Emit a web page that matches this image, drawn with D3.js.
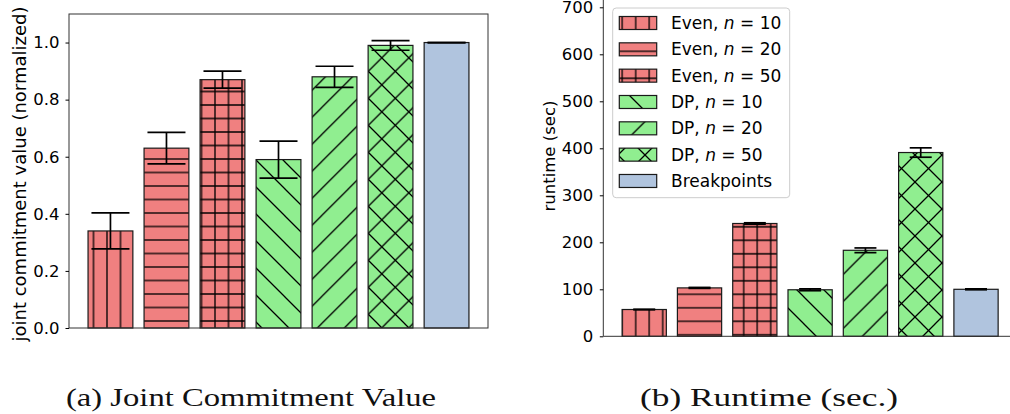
<!DOCTYPE html>
<html>
<head>
<meta charset="utf-8">
<script src="https://cdn.jsdelivr.net/npm/d3@7"></script>
<style>
  body { margin: 0; background: #fff; }
  svg { display: block; }
</style>
</head>
<body>
<svg id="fig" width="1010" height="414"></svg>
<script>
// ---- data ----
const groups     = ["Even", "Even", "Even", "DP", "DP", "DP", "Breakpoints"];
const sizes      = ["10", "20", "50", "10", "20", "50", null];
const hatches    = ["|", "-", "+", "\\", "/", "x", ""];
const jointValue = [0.34, 0.63, 0.87, 0.59, 0.88, 0.99, 1.0];
const jointErr   = [0.063, 0.055, 0.030, 0.065, 0.037, 0.017, 0.0];
const runtimeSec = [57, 103, 240, 99, 183, 391, 100];
const runtimeErr = [0.5, 1, 1.5, 2, 5, 10, 1];
const jointTicks   = [0.0, 0.2, 0.4, 0.6, 0.8, 1.0];
const runtimeTicks = [0, 100, 200, 300, 400, 500, 600, 700];
const captions = ["(a) Joint Commitment Value", "(b) Runtime (sec.)"];

const groupColor = { Even: "#f08080", DP: "#90ee90", Breakpoints: "#b0c4de" };
const idx = d3.range(groups.length);

const svg = d3.select("#fig");
const defs = svg.append("defs");
const FONT = "'DejaVu Sans', sans-serif";

// hatch tiles (spacing of straight and diagonal line families)
const S = 13.5, D = 27, HW = 1.3;
function hatchPatterns(prefix, ph) {
  // vertical lines
  let p = defs.append("pattern").attr("id", prefix + "-v")
    .attr("patternUnits", "userSpaceOnUse").attr("width", S).attr("height", S)
    .attr("x", ph.vx - S / 2).attr("y", 0);
  p.append("path").attr("d", `M${S/2},-1V${S+1}`).attr("stroke", "#000").attr("stroke-width", HW);
  // horizontal lines
  p = defs.append("pattern").attr("id", prefix + "-h")
    .attr("patternUnits", "userSpaceOnUse").attr("width", S).attr("height", S)
    .attr("x", 0).attr("y", ph.hy - S / 2);
  p.append("path").attr("d", `M-1,${S/2}H${S+1}`).attr("stroke", "#000").attr("stroke-width", HW);
  // grid
  p = defs.append("pattern").attr("id", prefix + "-p")
    .attr("patternUnits", "userSpaceOnUse").attr("width", S).attr("height", S)
    .attr("x", ph.vx - S / 2).attr("y", ph.hy - S / 2);
  p.append("path").attr("d", `M${S/2},-1V${S+1}M-1,${S/2}H${S+1}`).attr("stroke", "#000").attr("stroke-width", HW);
  // diagonal families: x - y = c (back) and x + y = c (forward)
  const back = `M-1,-1L${D+1},${D+1}M-2,${D-2}L2,${D+2}M${D-2},-2L${D+2},2`;
  const fwd  = `M-1,${D+1}L${D+1},-1M-2,2L2,-2M${D-2},${D+2}L${D+2},${D-2}`;
  p = defs.append("pattern").attr("id", prefix + "-b")
    .attr("patternUnits", "userSpaceOnUse").attr("width", D).attr("height", D)
    .attr("x", ph.back).attr("y", 0);
  p.append("path").attr("d", back).attr("stroke", "#000").attr("stroke-width", HW);
  p = defs.append("pattern").attr("id", prefix + "-f")
    .attr("patternUnits", "userSpaceOnUse").attr("width", D).attr("height", D)
    .attr("x", ph.fwd).attr("y", 0);
  p.append("path").attr("d", fwd).attr("stroke", "#000").attr("stroke-width", HW);
  // cross: both diagonal families
  p = defs.append("pattern").attr("id", prefix + "-xb")
    .attr("patternUnits", "userSpaceOnUse").attr("width", D).attr("height", D)
    .attr("x", ph.xback).attr("y", 0);
  p.append("path").attr("d", back).attr("stroke", "#000").attr("stroke-width", HW);
  p = defs.append("pattern").attr("id", prefix + "-xf")
    .attr("patternUnits", "userSpaceOnUse").attr("width", D).attr("height", D)
    .attr("x", ph.xfwd).attr("y", 0);
  p.append("path").attr("d", fwd).attr("stroke", "#000").attr("stroke-width", HW);
}
hatchPatterns("L", { vx: 215, hy: 321, back: 15, fwd: 24.3, xback: 0, xfwd: 7.6 });
hatchPatterns("R", { vx: 743.7, hy: 321.3, back: 21, fwd: 10.6, xback: 4, xfwd: 17 });

function hatchFills(prefix, h) {
  switch (h) {
    case "|": return [`url(#${prefix}-v)`];
    case "-": return [`url(#${prefix}-h)`];
    case "+": return [`url(#${prefix}-p)`];
    case "\\": return [`url(#${prefix}-b)`];
    case "/": return [`url(#${prefix}-f)`];
    case "x": return [`url(#${prefix}-xb)`, `url(#${prefix}-xf)`];
    default: return [];
  }
}

function drawBars(g, prefix, x, y, values, errs, barW, capHalf) {
  idx.forEach(i => {
    const x0 = x(i) - barW / 2, y0 = y(values[i]), h = y(0) - y(values[i]);
    g.append("rect").attr("x", x0).attr("y", y0).attr("width", barW).attr("height", h)
      .attr("fill", groupColor[groups[i]]);
    hatchFills(prefix, hatches[i]).forEach(f => {
      g.append("rect").attr("x", x0).attr("y", y0).attr("width", barW).attr("height", h)
        .attr("fill", f);
    });
    g.append("rect").attr("x", x0).attr("y", y0).attr("width", barW).attr("height", h)
      .attr("fill", "none").attr("stroke", "#1a1a1a").attr("stroke-width", 1.2);
  });
  // error bars
  idx.forEach(i => {
    const cx = x(i), lo = y(values[i] - errs[i]), hi = y(values[i] + errs[i]);
    const eg = g.append("g").attr("stroke", "#000").attr("stroke-width", 1.7);
    eg.append("line").attr("x1", cx).attr("x2", cx).attr("y1", lo).attr("y2", hi);
    eg.append("line").attr("x1", cx - capHalf).attr("x2", cx + capHalf).attr("y1", lo).attr("y2", lo);
    eg.append("line").attr("x1", cx - capHalf).attr("x2", cx + capHalf).attr("y1", hi).attr("y2", hi);
  });
}

function styleAxis(sel) {
  sel.select(".domain").remove();
  sel.selectAll(".tick line").attr("stroke", "#000").attr("stroke-width", 1);
  sel.selectAll(".tick text").attr("font-family", FONT).attr("font-size", 16.5).attr("fill", "#000");
}

// ---- panel (a): joint commitment value ----
{
  const L = 69, R = 488, T = 14, B = 328;
  const x = d3.scaleLinear().domain([-0.74, 6.74]).range([L, R]);
  const y = d3.scaleLinear().domain([0, 1.1]).range([B, T]);
  const g = svg.append("g");
  drawBars(g, "L", x, y, jointValue, jointErr, 0.8 * (x(1) - x(0)), 19);
  g.append("rect").attr("x", L).attr("y", T).attr("width", R - L).attr("height", B - T)
    .attr("fill", "none").attr("stroke", "#333").attr("stroke-width", 1);
  const ax = svg.append("g").attr("transform", `translate(${L},0)`)
    .call(d3.axisLeft(y).tickValues(jointTicks).tickFormat(d3.format(".1f")).tickSize(3.5).tickPadding(6));
  styleAxis(ax);
  svg.append("text").attr("transform", `translate(19,${(T + B) / 2 + 3}) rotate(-90)`)
    .attr("text-anchor", "middle").attr("dominant-baseline", "central")
    .attr("font-family", FONT).attr("font-size", 18)
    .text("joint commitment value (normalized)");
}

// ---- panel (b): runtime ----
{
  const L = 603.3, B = 336.3;
  const x = d3.scaleLinear().domain([-0.74, 6.74]).range([L, L + 7.48 * 55.3]);
  const y = d3.scaleLinear().domain([0, 700]).range([B, 7.3]);
  const g = svg.append("g");
  drawBars(g, "R", x, y, runtimeSec, runtimeErr, 0.8 * (x(1) - x(0)), 11);
  g.append("line").attr("x1", L).attr("x2", L).attr("y1", -2).attr("y2", B)
    .attr("stroke", "#333").attr("stroke-width", 1);
  g.append("line").attr("x1", L).attr("x2", 1012).attr("y1", B).attr("y2", B)
    .attr("stroke", "#333").attr("stroke-width", 1);
  const ax = svg.append("g").attr("transform", `translate(${L},0)`)
    .call(d3.axisLeft(y).tickValues(runtimeTicks).tickFormat(d3.format("d")).tickSize(3.5).tickPadding(6.5));
  styleAxis(ax);
  svg.append("text").attr("transform", `translate(549,156) rotate(-90)`)
    .attr("text-anchor", "middle").attr("dominant-baseline", "central")
    .attr("font-family", FONT).attr("font-size", 16.5)
    .text("runtime (sec)");

  // legend
  const lg = svg.append("g");
  lg.append("rect").attr("x", 612.7).attr("y", 8).attr("width", 177).attr("height", 189.7)
    .attr("rx", 3.5).attr("fill", "#fff").attr("fill-opacity", 0.8)
    .attr("stroke", "#ccc").attr("stroke-width", 1);
  idx.forEach(i => {
    const cy = 23 + i * 26.33;
    const px = 619.3, pw = 37.4, ph = 13;
    lg.append("rect").attr("x", px).attr("y", cy - ph / 2).attr("width", pw).attr("height", ph)
      .attr("fill", groupColor[groups[i]]);
    hatchFills("R", hatches[i]).forEach(f => {
      lg.append("rect").attr("x", px).attr("y", cy - ph / 2).attr("width", pw).attr("height", ph).attr("fill", f);
    });
    lg.append("rect").attr("x", px).attr("y", cy - ph / 2).attr("width", pw).attr("height", ph)
      .attr("fill", "none").attr("stroke", "#1a1a1a").attr("stroke-width", 1.2);
    const t = lg.append("text").attr("x", 671).attr("y", cy + 6)
      .attr("font-family", FONT).attr("font-size", 17).attr("fill", "#000");
    if (sizes[i] === null) {
      t.text(groups[i]);
    } else {
      t.append("tspan").text(groups[i] + ", ");
      t.append("tspan").attr("font-style", "italic").text("n");
      t.append("tspan").text(" = " + sizes[i]);
    }
  });
}

// ---- captions ----
[[251, captions[0], 370], [769, captions[1], 258]].forEach(([cx, txt, w]) => {
  svg.append("text").attr("x", cx - w / 2).attr("y", 406)
    .attr("font-family", "'Liberation Serif', serif").attr("font-size", 26)
    .attr("textLength", w).attr("lengthAdjust", "spacingAndGlyphs")
    .attr("fill", "#111").text(txt);
});
</script>
</body>
</html>
